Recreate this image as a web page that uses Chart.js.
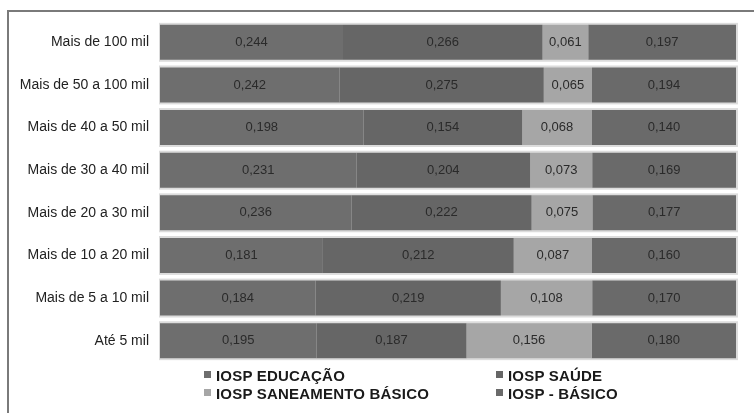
<!DOCTYPE html>
<html>
<head>
<meta charset="utf-8">
<script src="https://cdn.jsdelivr.net/npm/chart.js@4.4.1/dist/chart.umd.min.js"></script>
<style>
    html, body { margin: 0; padding: 0; background: #fff; }
    #wrap { position: relative; width: 754px; height: 413px; overflow: hidden; }
    #frame { position: absolute; left: 7px; top: 10px; width: 800px; height: 500px;
             border-top: 2px solid #7a7a7a; border-left: 2px solid #7a7a7a; }
    #chart { position: absolute; left: 0; top: 0; }
    #legend { position: absolute; left: 204px; top: 367px; width: 480px;
              display: grid; grid-template-columns: 292px 180px; row-gap: 0px;
              font-family: "Liberation Sans", Arial, sans-serif; font-weight: bold;
              font-size: 15px; line-height: 18px; letter-spacing: 0.2px; color: #1a1a1a; }
    #legend span.box { display: inline-block; width: 7px; height: 7px; margin-right: 5px;
                       vertical-align: 3px; }
</style>
</head>
<body>
<div id="wrap">
    <div id="frame"></div>
    <canvas id="chart" width="754" height="413"></canvas>
    <div id="legend"></div>
</div>
<script>
var categories = ['Mais de 100 mil', 'Mais de 50 a 100 mil', 'Mais de 40 a 50 mil', 'Mais de 30 a 40 mil',
                  'Mais de 20 a 30 mil', 'Mais de 10 a 20 mil', 'Mais de 5 a 10 mil', 'Até 5 mil'];
var educacao   = [0.244, 0.242, 0.198, 0.231, 0.236, 0.181, 0.184, 0.195];
var saude      = [0.266, 0.275, 0.154, 0.204, 0.222, 0.212, 0.219, 0.187];
var saneamento = [0.061, 0.065, 0.068, 0.073, 0.075, 0.087, 0.108, 0.156];
var basico     = [0.197, 0.194, 0.140, 0.169, 0.177, 0.160, 0.170, 0.180];

var seriesNames = ['IOSP EDUCAÇÃO', 'IOSP SAÚDE', 'IOSP SANEAMENTO BÁSICO', 'IOSP - BÁSICO'];
var seriesColors = ['#6e6e6e', '#666666', '#a6a6a6', '#6a6a6a'];
var raw = [educacao, saude, saneamento, basico];

// 100% stacked: share of each row total
var totals = categories.map(function (c, i) {
    return educacao[i] + saude[i] + saneamento[i] + basico[i];
});

var datasets = raw.map(function (vals, k) {
    return {
        label: seriesNames[k],
        data: vals.map(function (v, i) { return v / totals[i] * 100; }),
        rawValues: vals,
        backgroundColor: seriesColors[k],
        borderWidth: 0,
        barPercentage: 0.9,
        categoryPercentage: 0.91
    };
});

var valueLabels = {
    id: 'valueLabels',
    afterDatasetsDraw: function (chart) {
        var ctx = chart.ctx;
        ctx.save();
        ctx.font = '13px "Liberation Sans", Arial, sans-serif';
        ctx.fillStyle = '#2a2a2a';
        ctx.textAlign = 'center';
        ctx.textBaseline = 'middle';
        chart.data.datasets.forEach(function (ds, k) {
            chart.getDatasetMeta(k).data.forEach(function (bar, i) {
                var txt = ds.rawValues[i].toFixed(3).replace('.', ',');
                ctx.fillText(txt, (bar.base + bar.x) / 2, bar.y);
            });
        });
        ctx.restore();
    }
};

var barShadow = {
    id: 'barShadow',
    beforeDatasetsDraw: function (chart) {
        var ctx = chart.ctx;
        var meta = chart.getDatasetMeta(0);
        var last = chart.getDatasetMeta(chart.data.datasets.length - 1);
        ctx.save();
        ctx.fillStyle = '#dcdcdc';
        meta.data.forEach(function (bar, i) {
            var right = last.data[i].x;
            ctx.fillRect(bar.base - 1, bar.y - bar.height / 2 - 2, right - bar.base + 3, bar.height + 4);
        });
        ctx.restore();
    }
};

var chart = new Chart(document.getElementById('chart').getContext('2d'), {
    type: 'bar',
    data: { labels: categories, datasets: datasets },
    options: {
        indexAxis: 'y',
        responsive: false,
        animation: false,
        layout: { padding: { left: 0, right: 18, top: 21, bottom: 51 } },
        scales: {
            x: { stacked: true, min: 0, max: 100, display: false },
            y: {
                stacked: true,
                grid: { display: false, drawTicks: false },
                border: { display: false },
                ticks: {
                    padding: 11,
                    color: '#222',
                    font: { family: '"Liberation Sans", Arial, sans-serif', size: 14 }
                },
                afterFit: function (scale) { scale.width = 160; }
            }
        },
        plugins: {
            legend: { display: false },
            tooltip: { enabled: false }
        }
    },
    plugins: [barShadow, valueLabels]
});

// legend in two columns, as in the original
var legendEl = document.getElementById('legend');
[0, 1, 2, 3].forEach(function (k) {
    var item = document.createElement('div');
    item.innerHTML = '<span class="box" style="background:' + seriesColors[k] + '"></span>' + seriesNames[k];
    legendEl.appendChild(item);
});
</script>
</body>
</html>
